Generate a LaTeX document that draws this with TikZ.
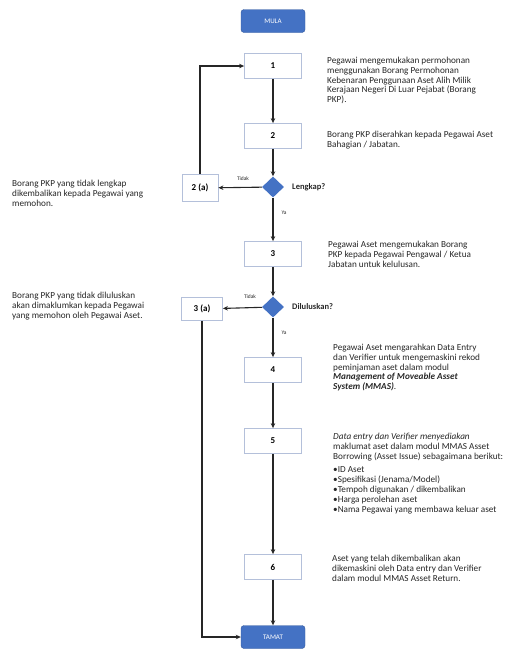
\documentclass[tikz,border=0pt]{standalone}
\usepackage{fontspec}
\setmainfont{Carlito}
\usetikzlibrary{shapes.geometric,arrows.meta}
\definecolor{accent}{HTML}{4472C4}
\definecolor{boxline}{HTML}{B4C0DA}
\definecolor{ink}{HTML}{262626}
\tikzset{
  terminal/.style={draw=accent!80!black,fill=accent,rounded corners=3pt,minimum width=64pt,minimum height=23pt,text=white,font=\fontsize{7}{8}\selectfont,inner sep=0pt},
  stepbox/.style={draw=boxline,line width=0.8pt,fill=white,minimum width=57pt,minimum height=25pt,font=\bfseries\fontsize{9}{10}\selectfont,inner sep=0pt},
  decision/.style={diamond,fill=accent,draw=none,minimum width=22pt,minimum height=21pt,inner sep=0pt,aspect=1.05},
  desc/.style={anchor=north west,align=left,inner sep=0pt,text=ink,font=\fontsize{9.2}{9.8}\selectfont},
  flow/.style={draw=ink,line width=1.1pt,-{Stealth[length=5pt,width=4.5pt]}},
  lbl/.style={inner sep=0pt,text=ink,font=\fontsize{5.5}{6}\selectfont},
  qlbl/.style={anchor=west,inner sep=0pt,text=ink,font=\bfseries\fontsize{8.5}{9}\selectfont}
}
\begin{document}
\begin{tikzpicture}[x=1pt,y=-1pt]
\useasboundingbox (0,0) rectangle (527,649);
\node[terminal] (mula) at (273,21) {MULA};
\node[stepbox] (b1) at (273,66) {1};
\node[stepbox] (b2) at (273,136) {2};
\node[decision] (d1) at (273,187) {};
\node[stepbox,minimum width=36pt,minimum height=27pt] (b2a) at (200,188) {2 (a)};
\node[stepbox] (b3) at (273,254) {3};
\node[decision] (d2) at (273,307) {};
\node[stepbox,minimum width=41pt,minimum height=23pt] (b3a) at (202,309) {3 (a)};
\node[stepbox] (b4) at (273,370) {4};
\node[stepbox] (b5) at (273,441) {5};
\node[stepbox] (b6) at (273,567) {6};
\node[terminal] (tamat) at (273,637) {TAMAT};

\coordinate (c1) at (b2a.north |- b1.west);
\coordinate (c2) at (b3a.south |- tamat.west);

\path[flow] (b1) -- (b2);
\path[flow] (b2) -- (d1);
\path[flow] (d1) -- (b2a);
\path[flow] (d1) -- (b3);
\path[flow] (b3) -- (d2);
\path[flow] (d2) -- (b3a);
\path[flow] (d2) -- (b4);
\path[flow] (b4) -- (b5);
\path[flow] (b5) -- (b6);
\path[flow] (b6) -- (tamat);
\path[flow] (b2a.north) -- (c1) -- (b1.west);
\path[flow] (b3a.south) -- (c2) -- (tamat.west);

\node[lbl] (t1) at (243,179) {Tidak};
\node[lbl] (y1) at (284,213) {Ya};
\node[lbl] (t2) at (250,297) {Tidak};
\node[lbl] (y2) at (284,333) {Ya};
\node[qlbl] (q1) at (292,187) {Lengkap?};
\node[qlbl] (q2) at (292,307) {Diluluskan?};

\node[desc] (x1) at (327,57) {Pegawai mengemukakan permohonan\\menggunakan Borang Permohonan\\Kebenaran Penggunaan Aset Alih Milik\\Kerajaan Negeri Di Luar Pejabat (Borang\\PKP).};
\node[desc] (x2) at (327,131) {Borang PKP diserahkan kepada Pegawai Aset\\Bahagian / Jabatan.};
\node[desc] (x2a) at (12,180) {Borang PKP yang tidak lengkap\\dikembalikan kepada Pegawai yang\\memohon.};
\node[desc] (x3) at (328,241) {Pegawai Aset mengemukakan Borang\\PKP kepada Pegawai Pengawal / Ketua\\Jabatan untuk kelulusan.};
\node[desc] (x3a) at (12,292) {Borang PKP yang tidak diluluskan\\akan dimaklumkan kepada Pegawai\\yang memohon oleh Pegawai Aset.};
\node[desc] (x4) at (333,344) {Pegawai Aset mengarahkan Data Entry\\dan Verifier untuk mengemaskini rekod\\peminjaman aset dalam modul\\\textbf{\itshape Management of Moveable Asset}\\\textbf{\itshape System (MMAS)}.};
\node[desc] (x5) at (333,433) {\itshape Data entry dan Verifier menyediakan\\maklumat aset dalam modul MMAS Asset\\Borrowing (Asset Issue) sebagaimana berikut:\\[4pt]•ID Aset\\•Spesifikasi (Jenama/Model)\\•Tempoh digunakan / dikembalikan\\•Harga perolehan aset\\•Nama Pegawai yang membawa keluar aset};
\node[desc] (x6) at (332,555) {Aset yang telah dikembalikan akan\\dikemaskini oleh Data entry dan Verifier\\dalam modul MMAS Asset Return.};
\end{tikzpicture}
\end{document}
